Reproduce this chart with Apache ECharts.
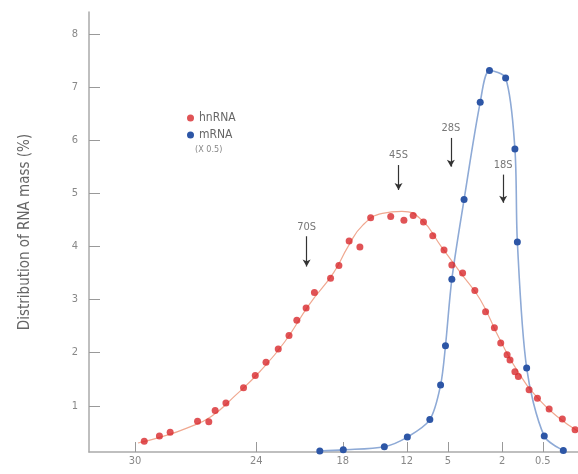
<!DOCTYPE html>
<html>
<head>
<meta charset="utf-8">
<script src="https://cdn.jsdelivr.net/npm/echarts@6/dist/echarts.min.js"></script>
<style>
  html, body { margin: 0; padding: 0; background: #fff; }
  #chart { width: 578px; height: 474px; }
</style>
</head>
<body>
<div id="chart"></div>
<script>
// x is position along the gradient (0..100), tick labels are sedimentation values
var tickPos = [9.4, 34.2, 51.9, 65.0, 73.4, 84.5, 92.8];
var tickLabels = ['30', '24', '18', '12', '5', '2', '0.5'];
var yTicks = [1, 2, 3, 4, 5, 6, 7, 8];

// hnRNA measured points
var hnX = [11.3, 14.4, 16.6, 22.2, 24.5, 25.8, 28.0, 31.6, 34.0, 36.2, 38.7, 40.9, 42.5, 44.4,
           46.1, 49.4, 51.1, 53.2, 55.4, 57.6, 61.7, 64.4, 66.3, 68.4, 70.3, 72.6, 74.2, 76.4,
           78.9, 81.1, 82.9, 84.2, 85.5, 86.1, 87.1, 87.8, 90.0, 91.7, 94.1, 96.8, 99.4];
var hnY = [0.33, 0.43, 0.50, 0.71, 0.70, 0.91, 1.05, 1.34, 1.57, 1.82, 2.07, 2.32, 2.61, 2.84,
           3.13, 3.40, 3.64, 4.10, 3.99, 4.54, 4.56, 4.49, 4.58, 4.46, 4.20, 3.93, 3.65, 3.50,
           3.17, 2.77, 2.47, 2.18, 1.96, 1.86, 1.64, 1.55, 1.30, 1.14, 0.94, 0.75, 0.55];

// hnRNA fitted curve
var hnFitX = [10, 15, 20, 25, 30, 35, 40, 45, 50, 53, 56, 60, 64, 68, 72, 76, 80, 84, 88, 92, 96, 100];
var hnFitY = [0.30, 0.42, 0.58, 0.80, 1.20, 1.65, 2.20, 2.90, 3.50, 4.00, 4.40, 4.62, 4.66, 4.50,
              4.00, 3.50, 3.00, 2.25, 1.60, 1.12, 0.78, 0.52];

// mRNA (x 0.5) points
var mX = [47.2, 52.0, 60.4, 65.1, 69.7, 71.9, 72.9, 74.2, 76.7, 80.0, 81.9, 85.2, 87.1, 87.6, 89.5, 93.1, 97.0];
var mY = [0.15, 0.17, 0.23, 0.41, 0.74, 1.39, 2.13, 3.38, 4.88, 6.71, 7.31, 7.17, 5.83, 4.08, 1.71, 0.43, 0.16];

// marker arrows
var markNames = ['70S', '45S', '28S', '18S'];
var markX = [44.5, 63.3, 74.0, 84.7];
var markTop = [4.19, 5.53, 6.04, 5.35];
var markBottom = [3.62, 5.06, 5.50, 4.82];

function zip(a, b) {
    return a.map(function (v, i) { return [v, b[i]]; });
}

var font = "'DejaVu Sans Condensed', 'Liberation Sans Narrow', 'Liberation Sans', sans-serif";

var arrows = markNames.map(function (n, i) {
    return [
        { name: n, coord: [markX[i], markTop[i]] },
        { coord: [markX[i], markBottom[i]] }
    ];
});

var option = {
    animation: false,
    textStyle: { fontFamily: font },
    grid: { left: 89, right: 0, top: 12, bottom: 22 },
    legend: {
        data: ['hnRNA', 'mRNA'],
        orient: 'vertical',
        left: 182,
        top: 107,
        icon: 'circle',
        itemWidth: 7,
        itemHeight: 7,
        itemGap: 5,
        textStyle: { color: '#666', fontSize: 12, fontFamily: font }
    },
    graphic: [{
        type: 'text',
        left: 195,
        top: 145,
        style: { text: '(X 0.5)', fill: '#888', fontSize: 9, fontFamily: font }
    }],
    xAxis: {
        type: 'value',
        min: 0,
        max: 100,
        axisLine: { lineStyle: { color: '#aaa', width: 1.5 } },
        axisTick: { inside: true, length: 10, customValues: tickPos, lineStyle: { color: '#999' } },
        axisLabel: {
            customValues: tickPos,
            color: '#888',
            fontSize: 11,
            margin: 4,
            formatter: function (v) { return tickLabels[tickPos.indexOf(v)]; }
        },
        splitLine: { show: false }
    },
    yAxis: {
        type: 'value',
        min: 0.13,
        max: 8.41,
        name: 'Distribution of RNA mass (%)',
        nameLocation: 'middle',
        nameGap: 56,
        nameTextStyle: { color: '#666', fontSize: 15, fontFamily: font },
        axisLine: { show: true, lineStyle: { color: '#aaa', width: 1.5 } },
        axisTick: { show: true, inside: true, length: 11, customValues: yTicks, lineStyle: { color: '#999' } },
        axisLabel: { customValues: yTicks, color: '#888', fontSize: 11, margin: 11 },
        splitLine: { show: false }
    },
    series: [
        {
            name: 'hnRNA fit',
            type: 'line',
            data: zip(hnFitX, hnFitY),
            smooth: 0.5,
            showSymbol: false,
            lineStyle: { color: '#f0a890', width: 1.2 },
            z: 1
        },
        {
            name: 'mRNA',
            type: 'line',
            data: zip(mX, mY),
            smooth: 0.3,
            symbol: 'circle',
            symbolSize: 7,
            itemStyle: { color: '#2d56a6' },
            lineStyle: { color: '#8eaad6', width: 1.6 },
            z: 2
        },
        {
            name: 'hnRNA',
            type: 'scatter',
            data: zip(hnX, hnY),
            symbolSize: 7,
            itemStyle: { color: '#d8282c' },
            z: 3,
            markLine: {
                silent: true,
                symbol: ['none', 'arrow'],
                symbolSize: [6, 7],
                lineStyle: { color: '#333', width: 1.2, type: 'solid' },
                label: {
                    show: true,
                    position: 'start',
                    formatter: '{b}',
                    color: '#777',
                    fontSize: 11,
                    fontFamily: font,
                    distance: 4
                },
                data: arrows
            }
        }
    ]
};

var chartObj = echarts.init(document.getElementById('chart'));
chartObj.setOption(option);
</script>
</body>
</html>
